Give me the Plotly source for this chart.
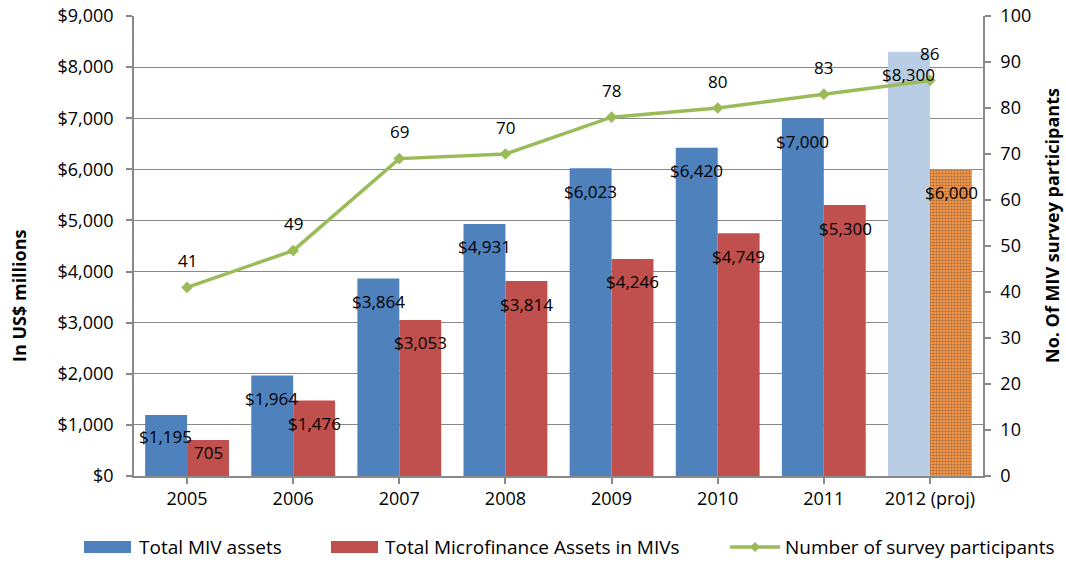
import plotly.graph_objects as go

years = ["2005", "2006", "2007", "2008", "2009", "2010", "2011", "2012 (proj)"]
miv_assets = [1195, 1964, 3864, 4931, 6023, 6420, 7000, 8300]
mf_assets = [705, 1476, 3053, 3814, 4246, 4749, 5300, 6000]
participants = [41, 49, 69, 70, 78, 80, 83, 86]

BLUE = "#4F81BD"
BLUE_PROJ = "#B9CDE5"
RED = "#C0504D"
ORANGE = "#F79646"
GREEN = "#9BBB59"
GRID = "#898989"
FONT = "Open Sans"
FS = 18
FS_LBL = 17
FS_LEG = 19

n = len(years)
idx = list(range(n))

fig = go.Figure()

fig.add_trace(go.Bar(
    x=idx, y=miv_assets, name="Total MIV assets",
    marker=dict(color=[BLUE] * (n - 1) + [BLUE_PROJ], line=dict(width=0)),
    offsetgroup="a", yaxis="y",
))
fig.add_trace(go.Bar(
    x=idx, y=mf_assets, name="Total Microfinance Assets in MIVs",
    marker=dict(
        color=[RED] * (n - 1) + [ORANGE], line=dict(width=0),
        pattern=dict(shape=[""] * (n - 1) + ["."], fgcolor="#FCC79C",
                     size=3, solidity=0.4),
    ),
    offsetgroup="b", yaxis="y",
))
fig.add_trace(go.Scatter(
    x=idx, y=participants, name="Number of survey participants",
    mode="lines+markers", yaxis="y2",
    line=dict(color=GREEN, width=3.5),
    marker=dict(symbol="diamond", size=9, color=GREEN),
))

# plot geometry (px) used for label offsets
L, R, T, B = 134, 83, 16, 86
PLOT_H = 562 - T - B
PLOT_W = 1066 - L - R
px_per_unit = PLOT_H / 9000.0

annotations = []
for i, (a, b) in enumerate(zip(miv_assets, mf_assets)):
    for val, off in ((a, -0.2), (b, 0.2)):
        shift = -min(23, val * px_per_unit * 0.36)
        annotations.append(dict(
            x=i + off, y=val, xref="x", yref="y",
            text=f"${val:,}" if val >= 1000 else f"{val}",
            showarrow=False, yanchor="middle", yshift=shift,
            font=dict(family=FONT, size=FS_LBL, color="#000"),
        ))
for i, p in enumerate(participants):
    annotations.append(dict(
        x=i, y=p, xref="x", yref="y2", text=str(p), showarrow=False,
        yanchor="middle", yshift=27,
        font=dict(family=FONT, size=FS_LBL, color="#000"),
    ))


def ypap(py):
    return (562 - B - py) / PLOT_H


def xpap(px):
    return (px - L) / PLOT_W


# axis titles
annotations.append(dict(
    x=xpap(19), y=ypap(296), xref="paper", yref="paper",
    xanchor="center", yanchor="middle",
    text="<b>In US$ millions</b>", textangle=-90, showarrow=False,
    font=dict(family=FONT, size=FS, color="#000"),
))
annotations.append(dict(
    x=xpap(1052), y=ypap(226), xref="paper", yref="paper",
    xanchor="center", yanchor="middle",
    text="<b>No. Of MIV survey participants</b>", textangle=-90, showarrow=False,
    font=dict(family=FONT, size=FS, color="#000"),
))

# legend drawn below the plot
shapes = []
leg_y = 547
legend_items = [
    ("rect", BLUE, 84, 131, "Total MIV assets", 137),
    ("rect", RED, 331, 378, "Total Microfinance Assets in MIVs", 383),
    ("line", GREEN, 730, 780, "Number of survey participants", 783),
]
for kind, col, x0, x1, label, tx in legend_items:
    if kind == "rect":
        shapes.append(dict(type="rect", xref="paper", yref="paper",
                           x0=xpap(x0), x1=xpap(x1), y0=ypap(leg_y + 6), y1=ypap(leg_y - 6),
                           fillcolor=col, line=dict(width=0)))
    else:
        shapes.append(dict(type="line", xref="paper", yref="paper",
                           x0=xpap(x0), x1=xpap(x1), y0=ypap(leg_y), y1=ypap(leg_y),
                           line=dict(color=col, width=3.5)))
        xm = xpap((x0 + x1) / 2)
        dx = 5 / PLOT_W
        dy = 5 / PLOT_H
        yc = ypap(leg_y)
        shapes.append(dict(type="path", xref="paper", yref="paper",
                           path=f"M {xm-dx},{yc} L {xm},{yc+dy} L {xm+dx},{yc} L {xm},{yc-dy} Z",
                           fillcolor=col, line=dict(width=0)))
    annotations.append(dict(
        x=xpap(tx), y=ypap(leg_y), xref="paper", yref="paper",
        xanchor="left", yanchor="middle", text=label, showarrow=False,
        font=dict(family=FONT, size=FS_LEG, color="#000"),
    ))

fig.update_layout(
    width=1066, height=562,
    margin=dict(l=L, r=R, t=T, b=B),
    paper_bgcolor="white", plot_bgcolor="white",
    barmode="group", bargap=0.21, bargroupgap=0,
    showlegend=False,
    font=dict(family=FONT, size=FS, color="#000"),
    xaxis=dict(
        tickmode="array", tickvals=idx, ticktext=years,
        range=[-0.5, n - 0.5], showline=True, linecolor=GRID, linewidth=1.5,
        ticks="outside", ticklen=6, tickcolor=GRID, tickwidth=1.5,
        showgrid=False, zeroline=False, automargin=False,
        tickson="boundaries",
    ),
    yaxis=dict(
        range=[0, 9000], dtick=1000, tickformat="$,.0f",
        showline=True, linecolor=GRID, linewidth=1.5,
        ticks="outside", ticklen=6, tickcolor=GRID, tickwidth=1.5,
        showgrid=True, gridcolor=GRID, gridwidth=1, zeroline=False,
        automargin=False, ticklabelstandoff=9,
    ),
    yaxis2=dict(
        range=[0, 100], dtick=10, overlaying="y", side="right",
        showline=True, linecolor=GRID, linewidth=1.5,
        ticks="outside", ticklen=6, tickcolor=GRID, tickwidth=1.5,
        showgrid=False, zeroline=False, automargin=False,
        ticklabelstandoff=6,
    ),
    annotations=annotations,
    shapes=shapes,
)

fig.write_html("out.html")
